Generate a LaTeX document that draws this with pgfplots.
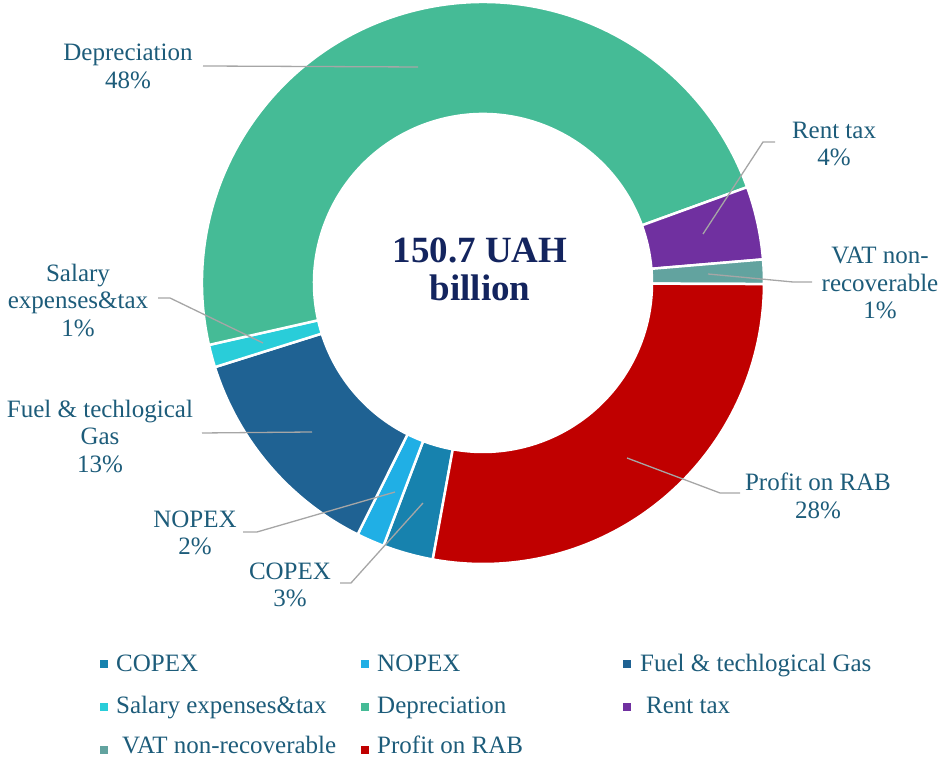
\documentclass[border=0pt]{standalone}
\usepackage{pgfplots}
\pgfplotsset{compat=1.18}
\usepackage{fontspec}
\setmainfont{Liberation Serif}
\usetikzlibrary{calc}
\definecolor{copex}{HTML}{1782AE}
\definecolor{nopex}{HTML}{20AFE5}
\definecolor{fuel}{HTML}{1F6293}
\definecolor{salary}{HTML}{29CDD9}
\definecolor{depr}{HTML}{45BB96}
\definecolor{rent}{HTML}{7030A0}
\definecolor{vat}{HTML}{62A39F}
\definecolor{profit}{HTML}{C00000}
\definecolor{lbltxt}{HTML}{1D5C7A}
\definecolor{navy}{HTML}{13245E}
\definecolor{leader}{HTML}{A6A6A6}

\begin{document}
\begin{tikzpicture}[font=\fontsize{25}{27.5}\selectfont,
    lbl/.style={text=lbltxt, align=center, inner sep=0pt},
    ld/.style={draw=leader, line width=1.3pt}]
\begin{axis}[
    width=943pt, height=760pt, scale only axis,
    xmin=0, xmax=943, ymin=0, ymax=760,
    hide axis, clip=false,
]

% --- donut: shares in %, clockwise, first slice starting at 190.3 deg
\xdef\cum{190.3}
\foreach \v/\c in {2.9/copex, 1.6/nopex, 12.8/fuel, 1.3/salary,
                   48.0/depr, 4.2/rent, 1.4/vat, 27.8/profit}{
  \pgfmathsetmacro\a{90-\cum}
  \pgfmathsetmacro\b{90-\cum-3.6*\v}
  \edef\temp{\noexpand\filldraw[fill=\c, draw=white, line width=2.5pt]
    (axis cs:483,477) ++(\a:281pt) arc[start angle=\a, end angle=\b, radius=281pt]
    -- ($(axis cs:483,477)+(\b:169pt)$)
    arc[start angle=\b, end angle=\a, radius=169pt] -- cycle;}
  \temp
  \pgfmathsetmacro\n{\cum+3.6*\v}
  \xdef\cum{\n}
}

% --- centre text
\node[text=navy, align=center, font=\fontsize{37}{38}\selectfont\bfseries]
  at (axis cs:480,491) {150.7 UAH\\billion};

% --- leader lines
\draw[ld] (axis cs:203,694) -- (axis cs:418,693);
\draw[ld] (axis cs:775,618) -- (axis cs:763,618) -- (axis cs:703,526);
\draw[ld] (axis cs:812,478) -- (axis cs:793,478) -- (axis cs:708,486);
\draw[ld] (axis cs:740,267) -- (axis cs:720,267) -- (axis cs:627,302);
\draw[ld] (axis cs:202,327) -- (axis cs:312,328);
\draw[ld] (axis cs:243,228) -- (axis cs:257,228) -- (axis cs:395,268);
\draw[ld] (axis cs:340,177) -- (axis cs:351,177) -- (axis cs:423,257);
\draw[ld] (axis cs:158,462) -- (axis cs:170,462) -- (axis cs:263,417);

% --- data labels
\node[lbl] at (axis cs:128,693.5) {Depreciation\\48\%};
\node[lbl] at (axis cs:834,616) {Rent tax\\4\%};
\node[lbl] at (axis cs:880,477) {VAT non-\\recoverable\\1\%};
\node[lbl] at (axis cs:818,264) {Profit on RAB\\28\%};
\node[lbl] at (axis cs:100,324) {Fuel \& techlogical\\Gas\\13\%};
\node[lbl] at (axis cs:195,227) {NOPEX\\2\%};
\node[lbl] at (axis cs:290,175) {COPEX\\3\%};
\node[lbl] at (axis cs:78,460) {Salary\\expenses\&tax\\1\%};

% --- legend
\foreach \x/\y/\c in {104/96/copex, 365/96/nopex, 627/96/fuel,
    104/53/salary, 365/53/depr, 627/53/rent, 104/10/vat, 365/10/profit}{
  \edef\temp{\noexpand\fill[\c] (axis cs:\x-4,\y-4) rectangle (axis cs:\x+4,\y+4);}
  \temp
}
\node[lbl, anchor=base west] at (axis cs:116,88) {COPEX};
\node[lbl, anchor=base west] at (axis cs:377,88) {NOPEX};
\node[lbl, anchor=base west] at (axis cs:640,88) {Fuel \& techlogical Gas};
\node[lbl, anchor=base west] at (axis cs:116,46) {Salary expenses\&tax};
\node[lbl, anchor=base west] at (axis cs:377,46) {Depreciation};
\node[lbl, anchor=base west] at (axis cs:646,46) {Rent tax};
\node[lbl, anchor=base west] at (axis cs:122,6) {VAT non-recoverable};
\node[lbl, anchor=base west] at (axis cs:377,6) {Profit on RAB};

\end{axis}
\pgfresetboundingbox
\path (current axis.south west) rectangle (current axis.north east);
\end{tikzpicture}
\end{document}
